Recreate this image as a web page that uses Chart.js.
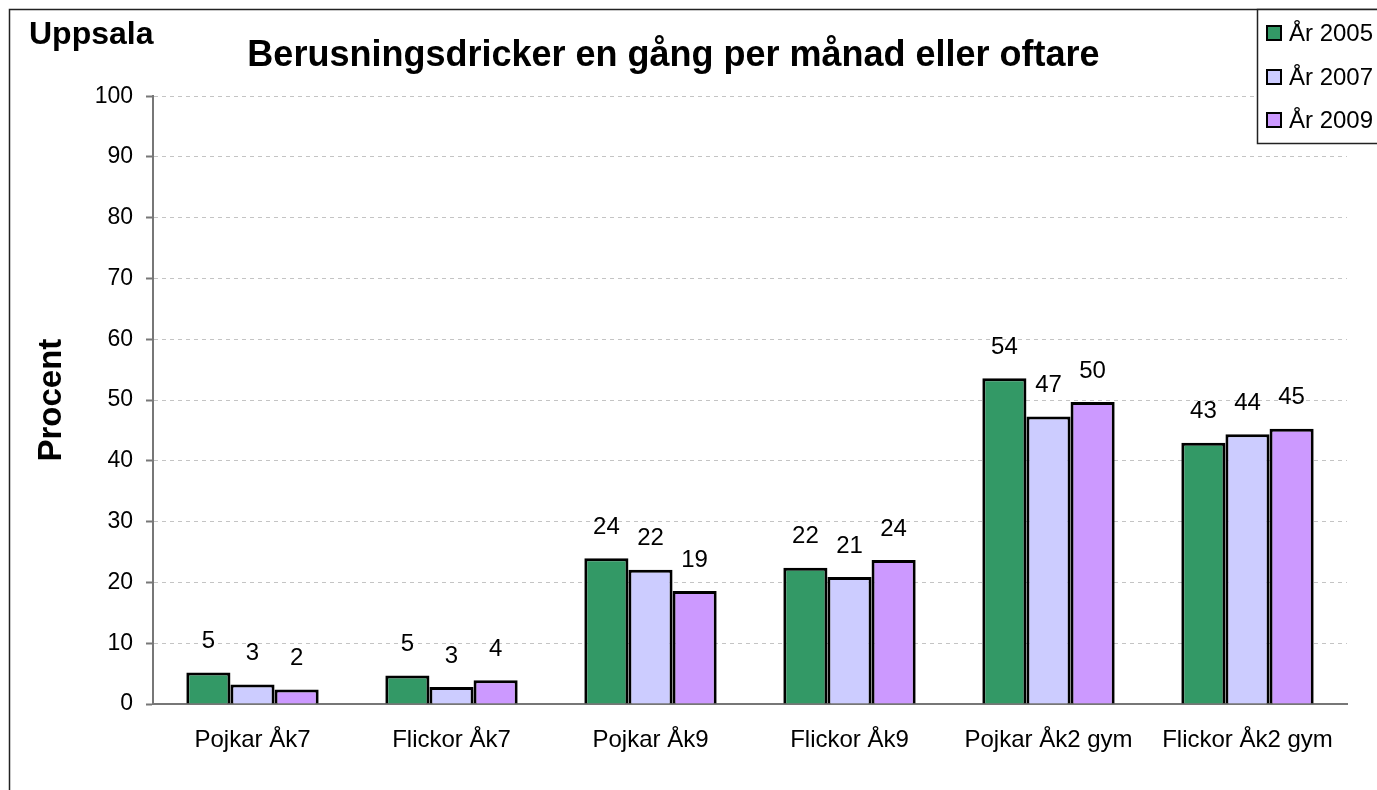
<!DOCTYPE html>
<html>
<head>
<meta charset="utf-8">
<script src="https://cdn.jsdelivr.net/npm/chart.js@4.4.1/dist/chart.umd.min.js"></script>
<style>
html,body{margin:0;padding:0;background:#fff;}
#wrap{width:1377px;height:790px;position:relative;overflow:hidden;}
canvas{display:block;}
</style>
</head>
<body>
<div id="wrap"><canvas id="c" width="1377" height="790"></canvas></div>
<script>
const categories = ['Pojkar Åk7', 'Flickor Åk7', 'Pojkar Åk9', 'Flickor Åk9', 'Pojkar Åk2 gym', 'Flickor Åk2 gym'];
const seriesLabels = ['År 2005', 'År 2007', 'År 2009'];
const yr2005 = [5.2, 4.7, 24.0, 22.4, 53.6, 43.0];
const yr2007 = [3.2, 2.8, 22.1, 20.9, 47.3, 44.4];
const yr2009 = [2.4, 3.9, 18.6, 23.7, 49.7, 45.3];
const seriesColors = ['#339966', '#ccccff', '#cc99ff'];
const yTicks = { min: 0, max: 100, step: 10 };
const chartTitle = 'Berusningsdricker en gång per månad eller oftare';
const cornerLabel = 'Uppsala';
const yTitle = 'Procent';

const FONT = "'Liberation Sans', Arial, sans-serif";

const decorPlugin = {
  id: 'decor',
  beforeDraw(chart) {
    const ctx = chart.ctx;
    ctx.save();
    ctx.fillStyle = '#fff';
    ctx.fillRect(0, 0, chart.width, chart.height);
    ctx.strokeStyle = '#222';
    ctx.lineWidth = 1.5;
    ctx.strokeRect(9.5, 9.5, 1500, 1000);
    ctx.restore();
  },
  afterDraw(chart) {
    const ctx = chart.ctx;
    ctx.save();
    // corner label
    ctx.fillStyle = '#000';
    ctx.font = 'bold 32px ' + FONT;
    ctx.textBaseline = 'alphabetic';
    ctx.textAlign = 'left';
    ctx.fillText(cornerLabel, 29, 44);
    // legend box
    ctx.fillStyle = '#fff';
    ctx.fillRect(1257, 9, 200, 134);
    ctx.strokeStyle = '#222';
    ctx.lineWidth = 1.5;
    ctx.strokeRect(1257.5, 9.5, 200, 134);
    const ys = [33, 77, 120];
    ctx.font = '24px ' + FONT;
    ctx.textBaseline = 'middle';
    chart.data.datasets.forEach((ds, i) => {
      ctx.fillStyle = ds.backgroundColor;
      ctx.fillRect(1267, ys[i] - 7, 14, 14);
      ctx.strokeStyle = '#000';
      ctx.lineWidth = 2;
      ctx.strokeRect(1267, ys[i] - 7, 14, 14);
      ctx.fillStyle = '#000';
      ctx.fillText(ds.label, 1289, ys[i] + 1);
    });
    ctx.restore();
  },
  afterDatasetsDraw(chart) {
    const ctx = chart.ctx;
    ctx.save();
    ctx.fillStyle = '#000';
    ctx.font = '24px ' + FONT;
    ctx.textAlign = 'center';
    ctx.textBaseline = 'middle';
    chart.data.datasets.forEach((ds, i) => {
      const meta = chart.getDatasetMeta(i);
      meta.data.forEach((bar, j) => {
        ctx.fillText(String(Math.round(ds.data[j])), bar.x, bar.y - 31);
      });
    });
    ctx.restore();
  }
};

const datasets = [yr2005, yr2007, yr2009].map((d, i) => ({
  label: seriesLabels[i],
  data: d,
  backgroundColor: seriesColors[i],
  borderColor: '#000',
  borderWidth: 3,
  borderSkipped: 'bottom',
  barPercentage: 1.0,
  categoryPercentage: 0.665
}));

new Chart(document.getElementById('c'), {
  type: 'bar',
  data: { labels: categories, datasets },
  options: {
    responsive: false,
    animation: false,
    devicePixelRatio: 1,
    layout: { padding: { left: 0, right: 30, top: 0, bottom: 0 } },
    plugins: {
      legend: { display: false },
      tooltip: { enabled: false },
      title: {
        display: true,
        text: chartTitle,
        color: '#000',
        font: { family: FONT, size: 36, weight: 'bold', lineHeight: 1.2 },
        padding: { top: 34, bottom: 19 }
      }
    },
    scales: {
      x: {
        grid: { display: false, drawTicks: false },
        border: { display: true, color: '#777', width: 2 },
        ticks: { color: '#000', font: { family: FONT, size: 24 }, padding: 22, maxRotation: 0, autoSkip: false },
        afterFit(scale) { scale.height = 86; }
      },
      y: {
        min: yTicks.min,
        max: yTicks.max,
        ticks: { stepSize: yTicks.step, color: '#000', font: { family: FONT, size: 23 }, padding: 13 },
        grid: {
          color: '#c4c4c4',
          lineWidth: 1,
          tickLength: 7,
          tickColor: '#777',
          tickWidth: 2,
          tickBorderDash: [],
          drawOnChartArea: true
        },
        border: { display: true, color: '#777', width: 2, dash: [4, 4] },
        title: {
          display: true,
          text: yTitle,
          color: '#000',
          font: { family: FONT, size: 33, weight: 'bold', lineHeight: 1.2 },
          padding: { top: 32, bottom: 0 }
        },
        afterFit(scale) { scale.width = 153; }
      }
    }
  },
  plugins: [decorPlugin]
});
</script>
</body>
</html>
